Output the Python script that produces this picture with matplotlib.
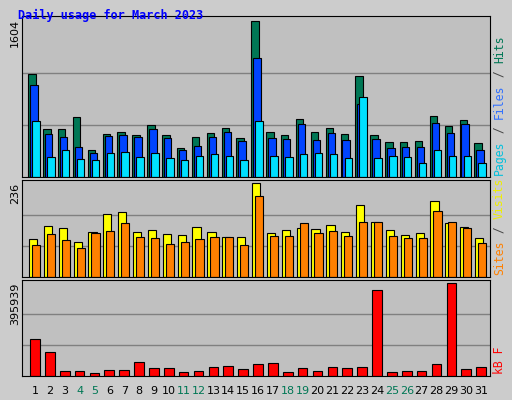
import matplotlib.pyplot as plt
import numpy as np

days = list(range(1, 32))
hits = [1057, 499, 499, 620, 281, 445, 467, 434, 532, 434, 303, 412, 456, 510, 401, 1604,
        467, 434, 598, 467, 510, 445, 1046, 434, 357, 357, 368, 631, 521, 587, 346]
files = [948, 445, 412, 313, 248, 423, 434, 412, 499, 401, 281, 324, 412, 467, 368, 1232,
         401, 390, 543, 379, 456, 379, 751, 390, 303, 313, 313, 554, 456, 543, 281]
pages = [576, 204, 281, 182, 171, 248, 259, 204, 248, 193, 171, 215, 237, 215, 171, 576,
         215, 204, 237, 248, 237, 193, 827, 193, 215, 204, 149, 281, 215, 215, 149]
visits = [95, 128, 123, 87, 113, 159, 164, 113, 118, 108, 105, 126, 113, 100, 100, 236,
          110, 118, 123, 121, 131, 113, 182, 139, 118, 105, 110, 192, 136, 126, 97]
sites = [80, 108, 92, 74, 110, 115, 136, 100, 97, 82, 87, 95, 100, 100, 80, 205,
         103, 103, 136, 110, 115, 103, 139, 139, 103, 97, 97, 167, 139, 123, 85]
kbytes = [157500, 101200, 23100, 23100, 14450, 27500, 27500, 57800, 36100, 36100, 18800,
          23100, 40500, 44800, 31800, 49100, 53500, 18800, 36100, 23100, 40500, 36100,
          40500, 365600, 18800, 23100, 23100, 49100, 395939, 31800, 40500]
weekend = [4, 5, 11, 12, 18, 19, 25, 26]

W, H = 512, 400
fig = plt.figure(figsize=(W / 100, H / 100), dpi=100, facecolor="#cccccc")
x = np.array(days)
mono = "DejaVu Sans Mono"
CHAR_PX = 7.0  # vertical advance per character of the side legends


def make_ax(top, bottom, vmax, label):
    ax = fig.add_axes([22 / W, 1 - bottom / H, 468 / W, (bottom - top) / H])
    ax.set_facecolor("#c0c0c0")
    ax.set_xlim(0.13, 31.6)
    ax.set_ylim(0, vmax * 1.035)
    for g in (vmax / 3, 2 * vmax / 3):
        ax.axhline(g, color="#808080", lw=1, zorder=0)
    ax.set_xticks([])
    ax.set_yticks([])
    fig.text(15 / W, 1 - (top + 3) / H, label, rotation=90, ha="center", va="top",
             fontsize=8)
    for s in ax.spines.values():
        s.set_color("black")
    return ax, bottom


bk = dict(edgecolor="black", linewidth=0.8)
ax1, b1 = make_ax(16, 177, max(hits), "1604")
ax1.bar(x - 0.2, hits, 0.5, color="#007755", **bk)
ax1.bar(x - 0.07, files, 0.5, color="#0044ff", **bk)
ax1.bar(x + 0.07, pages, 0.5, color="#00e0ff", **bk)

ax2, b2 = make_ax(180, 277, max(visits), "236")
ax2.bar(x - 0.13, visits, 0.55, color="#ffff00", **bk)
ax2.bar(x + 0.07, sites, 0.55, color="#ff8000", **bk)

ax3, b3 = make_ax(280, 376, max(kbytes), "395939")
ax3.bar(x, kbytes, 0.65, color="#ff0000", **bk)

for d in days:
    ax3.text(d, -0.1, str(d), transform=ax3.get_xaxis_transform(), ha="center", va="top",
             fontsize=8, color="#007755" if d in weekend else "black")


def side(bottom, parts):
    y = bottom - 2
    for txt, col in parts:
        fig.text(493 / W, 1 - y / H, txt, rotation=90, ha="left", va="bottom",
                 fontsize=8.3, color=col, family=mono)
        y -= len(txt) * CHAR_PX


side(b1, [("Pages", "#00c0dd"), (" / ", "#444444"), ("Files", "#3070ff"),
          (" / ", "#444444"), ("Hits", "#007755")])
side(b2, [("Sites", "#ff8000"), (" / ", "#444444"), ("Visits", "#eeee00")])
side(b3, [("kB F", "#ff0000")])

fig.text(18 / W, 1 - 15 / H, "Daily usage for March 2023", color="#0000ff",
         fontsize=8.5, fontweight="bold", family=mono, va="center")

fig.savefig("out.png", dpi=100, facecolor=fig.get_facecolor())
